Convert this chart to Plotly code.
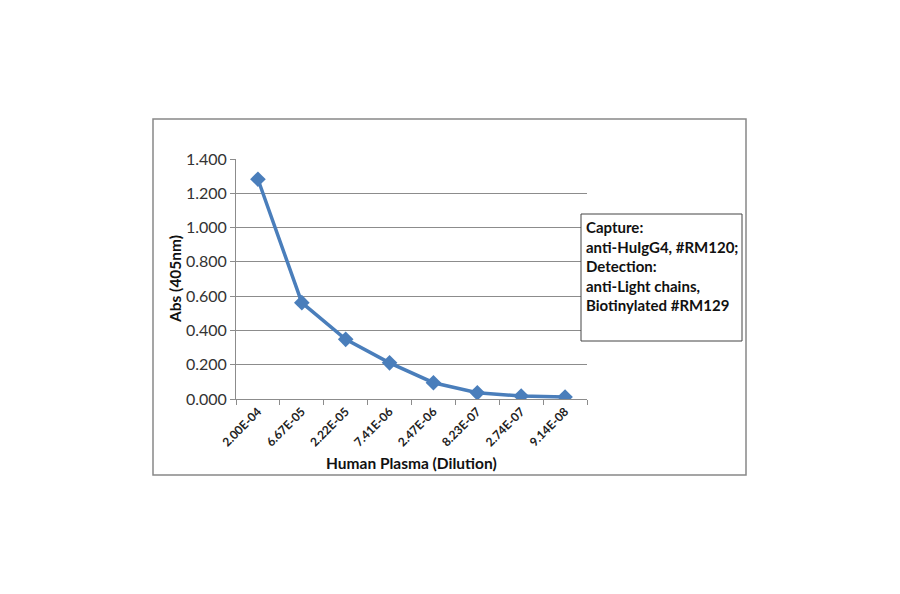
import plotly.graph_objects as go

# data
dilutions = ["2.00E-04", "6.67E-05", "2.22E-05", "7.41E-06",
             "2.47E-06", "8.23E-07", "2.74E-07", "9.14E-08"]
abs_405 = [1.282, 0.562, 0.348, 0.211, 0.095, 0.036, 0.017, 0.012]
y_ticks = [0, 0.2, 0.4, 0.6, 0.8, 1.0, 1.2, 1.4]
legend_lines = ["Capture:", "anti-HuIgG4, #RM120;", "Detection:",
                "anti-Light chains,", "Biotinylated #RM129"]

FONT = "Lato, Open Sans, sans-serif"
GRID = "#8c8c8c"

# plot area in reference pixels; page body adds an 8px margin
L, R, T, B = 236, 587, 159, 399
OFF = 8


def px_x(x):
    return (x - L) / (R - L)


def px_y(y):
    return (B - y) / (B - T)


fig = go.Figure(go.Scatter(
    x=dilutions, y=abs_405,
    mode="lines+markers",
    line=dict(color="#4a7ebb", width=3.5),
    marker=dict(symbol="diamond", size=12, color="#4a7ebb"),
    showlegend=False,
))

fig.update_layout(
    width=900, height=594,
    margin=dict(l=L - OFF, r=900 - R + OFF, t=T - OFF, b=594 - B + OFF),
    paper_bgcolor="white", plot_bgcolor="white",
    font=dict(family=FONT, color="#333333"),
)

fig.update_xaxes(
    type="category", range=[-0.5, 7.5],
    tickangle=-45, tickfont=dict(size=12, family=FONT, color="#222222", weight="bold"),
    showline=True, linecolor=GRID, linewidth=1,
    ticks="outside", tickson="boundaries", ticklen=5, tickcolor=GRID,
    showgrid=False, zeroline=False,
)
fig.update_yaxes(
    range=[0, 1.4], tickvals=y_ticks, tickformat=".3f",
    tickfont=dict(size=16, family=FONT, color="#333333"),
    showline=True, linecolor=GRID, linewidth=1,
    ticks="outside", ticklen=5, tickcolor=GRID,
    showgrid=True, gridcolor=GRID, gridwidth=1, zeroline=False,
)

# outer chart border
fig.add_shape(type="rect", xref="paper", yref="paper",
              x0=px_x(153), x1=px_x(746), y0=px_y(475), y1=px_y(119),
              line=dict(color="#888888", width=1.5), layer="below")
# text box on the right
fig.add_shape(type="rect", xref="paper", yref="paper",
              x0=px_x(581), x1=px_x(742), y0=px_y(341), y1=px_y(214),
              line=dict(color="#444444", width=1), fillcolor="white")

fig.add_annotation(
    xref="paper", yref="paper", x=px_x(584), y=px_y(216),
    xanchor="left", yanchor="top", align="left", showarrow=False,
    text="<br>".join(legend_lines),
    font=dict(size=15, family=FONT, color="#111111", weight="bold"),
)
fig.add_annotation(
    xref="paper", yref="paper", x=px_x(411), y=px_y(463),
    xanchor="center", yanchor="middle", showarrow=False,
    text="Human Plasma (Dilution)",
    font=dict(size=15.5, family=FONT, color="#111111", weight="bold"),
)
fig.add_annotation(
    xref="paper", yref="paper", x=px_x(175), y=px_y(279),
    xanchor="center", yanchor="middle", showarrow=False, textangle=-90,
    text="Abs (405nm)",
    font=dict(size=15.5, family=FONT, color="#111111", weight="bold"),
)

fig.write_html("out.html")
